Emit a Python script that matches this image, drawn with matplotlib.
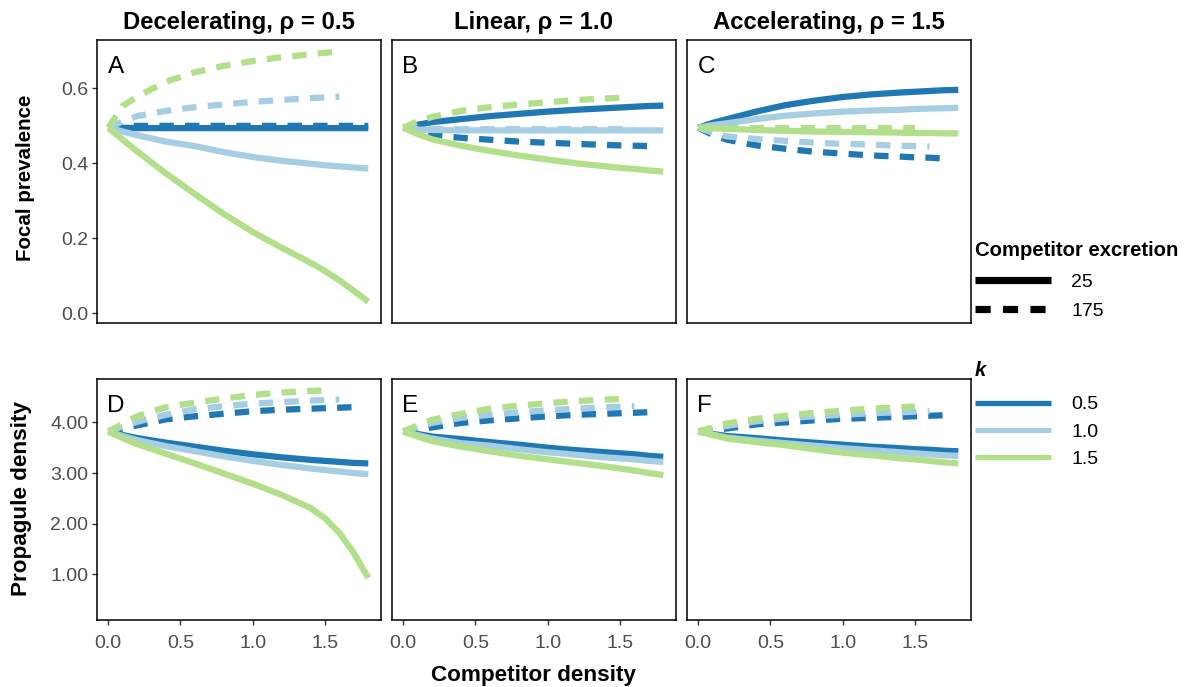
import matplotlib
matplotlib.use('Agg')
import matplotlib.pyplot as plt
from matplotlib.lines import Line2D
import numpy as np

plt.rcParams['font.family'] = ['Liberation Sans', 'DejaVu Sans']

# ---------------- data ----------------
competitor_density = [0.0, 0.1, 0.2, 0.4, 0.6, 0.8, 1.0, 1.2, 1.4, 1.5, 1.6, 1.7, 1.8]
N = None

k_levels = ['0.5', '1.0', '1.5']
k_colors = ['#1F78B4', '#A6CEE3', '#B2DF8A']
excretion_levels = ['25', '175']
panel_titles = ['Decelerating, ρ = 0.5', 'Linear, ρ = 1.0', 'Accelerating, ρ = 1.5']
panel_letters = [['A', 'B', 'C'], ['D', 'E', 'F']]
row_labels = ['Focal prevalence', 'Propagule density']
x_label = 'Competitor density'
legend_titles = ['Competitor excretion', 'k']
x_ticks = [0.0, 0.5, 1.0, 1.5]
prev_ticks = [0.0, 0.2, 0.4, 0.6]
dens_ticks = [1.0, 2.0, 3.0, 4.0]

# Focal prevalence, decelerating (A)
A_25_k05 = [0.495, 0.495, 0.494, 0.494, 0.494, 0.494, 0.494, 0.494, 0.494, 0.494, 0.494, 0.494, 0.494]
A_25_k10 = [0.495, 0.485, 0.475, 0.458, 0.446, 0.430, 0.417, 0.407, 0.399, 0.395, 0.392, 0.389, 0.386]
A_25_k15 = [0.495, 0.463, 0.432, 0.373, 0.318, 0.265, 0.217, 0.175, 0.135, 0.113, 0.088, 0.060, 0.031]
A_175_k05 = [0.495, 0.499, 0.500, 0.500, 0.500, 0.500, 0.500, 0.500, 0.500, 0.500, 0.500, 0.500, 0.500]
A_175_k10 = [0.495, 0.512, 0.526, 0.540, 0.550, 0.557, 0.564, 0.569, 0.574, 0.576, 0.578, N, N]
A_175_k15 = [0.495, 0.553, 0.578, 0.618, 0.643, 0.660, 0.673, 0.683, 0.691, 0.695, 0.698, N, N]

# Focal prevalence, linear (B)
B_25_k05 = [0.495, 0.503, 0.510, 0.518, 0.526, 0.532, 0.538, 0.543, 0.547, 0.549, 0.551, 0.553, 0.554]
B_25_k10 = [0.495, 0.490, 0.489, 0.488, 0.488, 0.488, 0.488, 0.488, 0.488, 0.488, 0.488, 0.488, 0.488]
B_25_k15 = [0.495, 0.478, 0.464, 0.447, 0.433, 0.421, 0.410, 0.400, 0.392, 0.388, 0.385, 0.381, 0.378]
B_175_k05 = [0.495, 0.484, 0.476, 0.468, 0.463, 0.458, 0.455, 0.452, 0.449, 0.448, 0.447, 0.446, N]
B_175_k10 = [0.495, 0.492, 0.491, 0.491, 0.491, 0.491, 0.491, 0.491, 0.491, 0.491, 0.491, N, N]
B_175_k15 = [0.495, 0.512, 0.524, 0.540, 0.550, 0.557, 0.563, 0.569, 0.573, 0.575, N, N, N]

# Focal prevalence, accelerating (C)
C_25_k05 = [0.495, 0.508, 0.518, 0.538, 0.555, 0.567, 0.577, 0.584, 0.589, 0.591, 0.593, 0.595, 0.596]
C_25_k10 = [0.495, 0.502, 0.507, 0.518, 0.527, 0.533, 0.538, 0.541, 0.543, 0.545, 0.546, 0.547, 0.548]
C_25_k15 = [0.495, 0.494, 0.492, 0.489, 0.487, 0.485, 0.484, 0.483, 0.482, 0.481, 0.481, 0.480, 0.480]
C_175_k05 = [0.495, 0.476, 0.463, 0.448, 0.439, 0.431, 0.426, 0.421, 0.418, 0.416, 0.415, 0.413, N]
C_175_k10 = [0.495, 0.482, 0.472, 0.465, 0.460, 0.455, 0.452, 0.450, 0.447, 0.446, 0.445, N, N]
C_175_k15 = [0.495, 0.494, 0.494, 0.494, 0.494, 0.494, 0.494, 0.494, 0.494, 0.494, N, N, N]

# Propagule density, decelerating (D)
D_25_k05 = [3.82, 3.75, 3.69, 3.60, 3.52, 3.44, 3.37, 3.31, 3.26, 3.24, 3.22, 3.20, 3.19]
D_25_k10 = [3.82, 3.73, 3.65, 3.53, 3.43, 3.33, 3.24, 3.16, 3.09, 3.06, 3.03, 3.00, 2.98]
D_25_k15 = [3.82, 3.69, 3.57, 3.38, 3.19, 2.99, 2.79, 2.57, 2.31, 2.11, 1.82, 1.42, 0.93]
D_175_k05 = [3.82, 3.88, 3.94, 4.06, 4.12, 4.17, 4.22, 4.25, 4.27, 4.28, 4.29, 4.30, N]
D_175_k10 = [3.82, 3.92, 4.01, 4.15, 4.26, 4.32, 4.37, 4.40, 4.43, 4.44, 4.45, N, N]
D_175_k15 = [3.82, 3.97, 4.12, 4.30, 4.39, 4.47, 4.54, 4.59, 4.62, 4.63, N, N, N]

# Propagule density, linear (E)
E_25_k05 = [3.82, 3.77, 3.72, 3.67, 3.61, 3.56, 3.50, 3.45, 3.41, 3.39, 3.37, 3.34, 3.32]
E_25_k10 = [3.82, 3.75, 3.68, 3.59, 3.54, 3.47, 3.41, 3.36, 3.31, 3.29, 3.27, 3.24, 3.22]
E_25_k15 = [3.82, 3.72, 3.63, 3.52, 3.43, 3.34, 3.27, 3.20, 3.13, 3.09, 3.05, 3.00, 2.96]
E_175_k05 = [3.82, 3.86, 3.90, 3.99, 4.04, 4.08, 4.12, 4.15, 4.17, 4.18, 4.19, 4.20, N]
E_175_k10 = [3.82, 3.91, 3.99, 4.09, 4.15, 4.20, 4.24, 4.27, 4.30, 4.31, 4.32, N, N]
E_175_k15 = [3.82, 3.94, 4.05, 4.17, 4.27, 4.33, 4.38, 4.42, 4.45, 4.46, N, N, N]

# Propagule density, accelerating (F)
F_25_k05 = [3.82, 3.77, 3.73, 3.69, 3.64, 3.60, 3.56, 3.52, 3.49, 3.47, 3.46, 3.44, 3.43]
F_25_k10 = [3.82, 3.76, 3.70, 3.64, 3.59, 3.54, 3.49, 3.45, 3.41, 3.39, 3.37, 3.35, 3.34]
F_25_k15 = [3.82, 3.75, 3.68, 3.61, 3.55, 3.47, 3.40, 3.35, 3.29, 3.27, 3.24, 3.21, 3.19]
F_175_k05 = [3.82, 3.85, 3.88, 3.96, 4.00, 4.04, 4.07, 4.09, 4.11, 4.12, 4.13, 4.14, N]
F_175_k10 = [3.82, 3.88, 3.93, 4.02, 4.08, 4.12, 4.15, 4.18, 4.20, 4.21, 4.22, N, N]
F_175_k15 = [3.82, 3.90, 3.98, 4.07, 4.13, 4.19, 4.23, 4.27, 4.30, 4.31, N, N, N]

panels = [
    [{'25': [A_25_k05, A_25_k10, A_25_k15], '175': [A_175_k05, A_175_k10, A_175_k15]},
     {'25': [B_25_k05, B_25_k10, B_25_k15], '175': [B_175_k05, B_175_k10, B_175_k15]},
     {'25': [C_25_k05, C_25_k10, C_25_k15], '175': [C_175_k05, C_175_k10, C_175_k15]}],
    [{'25': [D_25_k05, D_25_k10, D_25_k15], '175': [D_175_k05, D_175_k10, D_175_k15]},
     {'25': [E_25_k05, E_25_k10, E_25_k15], '175': [E_175_k05, E_175_k10, E_175_k15]},
     {'25': [F_25_k05, F_25_k10, F_25_k15], '175': [F_175_k05, F_175_k10, F_175_k15]}],
]

# ---------------- figure ----------------
W, H = 1187, 687
fig = plt.figure(figsize=(W / 100, H / 100), dpi=100)

col_left = [96.7, 391.7, 686.7]
col_w = 284.0
row_top = [40.0, 379.3]
row_h = [282.7, 240.7]
ylims = [(-0.025, 0.729), (0.10, 4.85)]
yticks = [prev_ticks, dens_ticks]
yfmt = ['{:.1f}', '{:.2f}']

dash = (0, (2.3, 1.8))
lw = 4.5
tick_color = '#4D4D4D'

for r in range(2):
    for c in range(3):
        ax = fig.add_axes([col_left[c] / W, 1 - (row_top[r] + row_h[r]) / H,
                           col_w / W, row_h[r] / H])
        xs = np.array(competitor_density, dtype=float)
        data = panels[r][c]
        for ki in range(3):
            for ex in excretion_levels:
                ys = np.array([np.nan if v is None else v for v in data[ex][ki]], dtype=float)
                ax.plot(xs, ys, color=k_colors[ki], lw=lw,
                        linestyle='-' if ex == '25' else dash,
                        solid_capstyle='butt', dash_capstyle='butt',
                        solid_joinstyle='round', zorder=3)
        ax.set_xlim(-0.080, 1.886)
        ax.set_ylim(*ylims[r])
        for s in ax.spines.values():
            s.set_linewidth(1.1)
            s.set_color('black')
        ax.tick_params(length=3.5, width=1.0, color='#333333',
                       labelsize=14, labelcolor=tick_color, pad=2.5)
        if r == 1:
            ax.set_xticks(x_ticks)
            ax.set_xticklabels(['{:.1f}'.format(t) for t in x_ticks])
            ax.tick_params(axis='x', pad=7)
        else:
            ax.set_xticks([])
        if c == 0:
            ax.set_yticks(yticks[r])
            ax.set_yticklabels([yfmt[r].format(t) for t in yticks[r]])
        else:
            ax.set_yticks([])
        ax.text(0.038, 1 - 16 / row_h[r], panel_letters[r][c], transform=ax.transAxes,
                fontsize=17.5, va='top', ha='left', color='black')
        if r == 0:
            ax.set_title(panel_titles[c], fontsize=17.2, fontweight='bold', pad=8)

# row labels
fig.text(26 / W, 1 - 178 / H, row_labels[0], rotation=90, ha='center', va='center',
         fontsize=14.8, fontweight='bold')
fig.text(22 / W, 1 - 499 / H, row_labels[1], rotation=90, ha='center', va='center',
         fontsize=16.2, fontweight='bold')
fig.text(533.7 / W, 1 - 675 / H, x_label, ha='center', va='center',
         fontsize=16.2, fontweight='bold')

# legends
fig.text(975 / W, 1 - 250 / H, legend_titles[0], ha='left', va='center',
         fontsize=14.6, fontweight='bold')
fig.text(975 / W, 1 - 371 / H, legend_titles[1], ha='left', va='center',
         fontsize=14.6, fontweight='bold', fontstyle='italic')

h_ex = [Line2D([], [], color='black', lw=5.2, linestyle='-', solid_capstyle='butt'),
        Line2D([], [], color='black', lw=5.2, linestyle=(0, (2.1, 1.7)), dash_capstyle='butt')]
leg1 = fig.legend(h_ex, excretion_levels,
                  loc='center left', bbox_to_anchor=(975 / W, 1 - 296.5 / H),
                  frameon=False, fontsize=14,
                  handlelength=3.9, handletextpad=1.05, labelspacing=0.58,
                  borderpad=0, borderaxespad=0)

h_k = [Line2D([], [], color=k_colors[i], lw=3.8, solid_capstyle='butt') for i in range(3)]
leg2 = fig.legend(h_k, k_levels,
                  loc='center left', bbox_to_anchor=(975 / W, 1 - 432 / H),
                  frameon=False, fontsize=14,
                  handlelength=3.9, handletextpad=1.05, labelspacing=0.5,
                  borderpad=0, borderaxespad=0)

fig.savefig('out.png', dpi=100)
